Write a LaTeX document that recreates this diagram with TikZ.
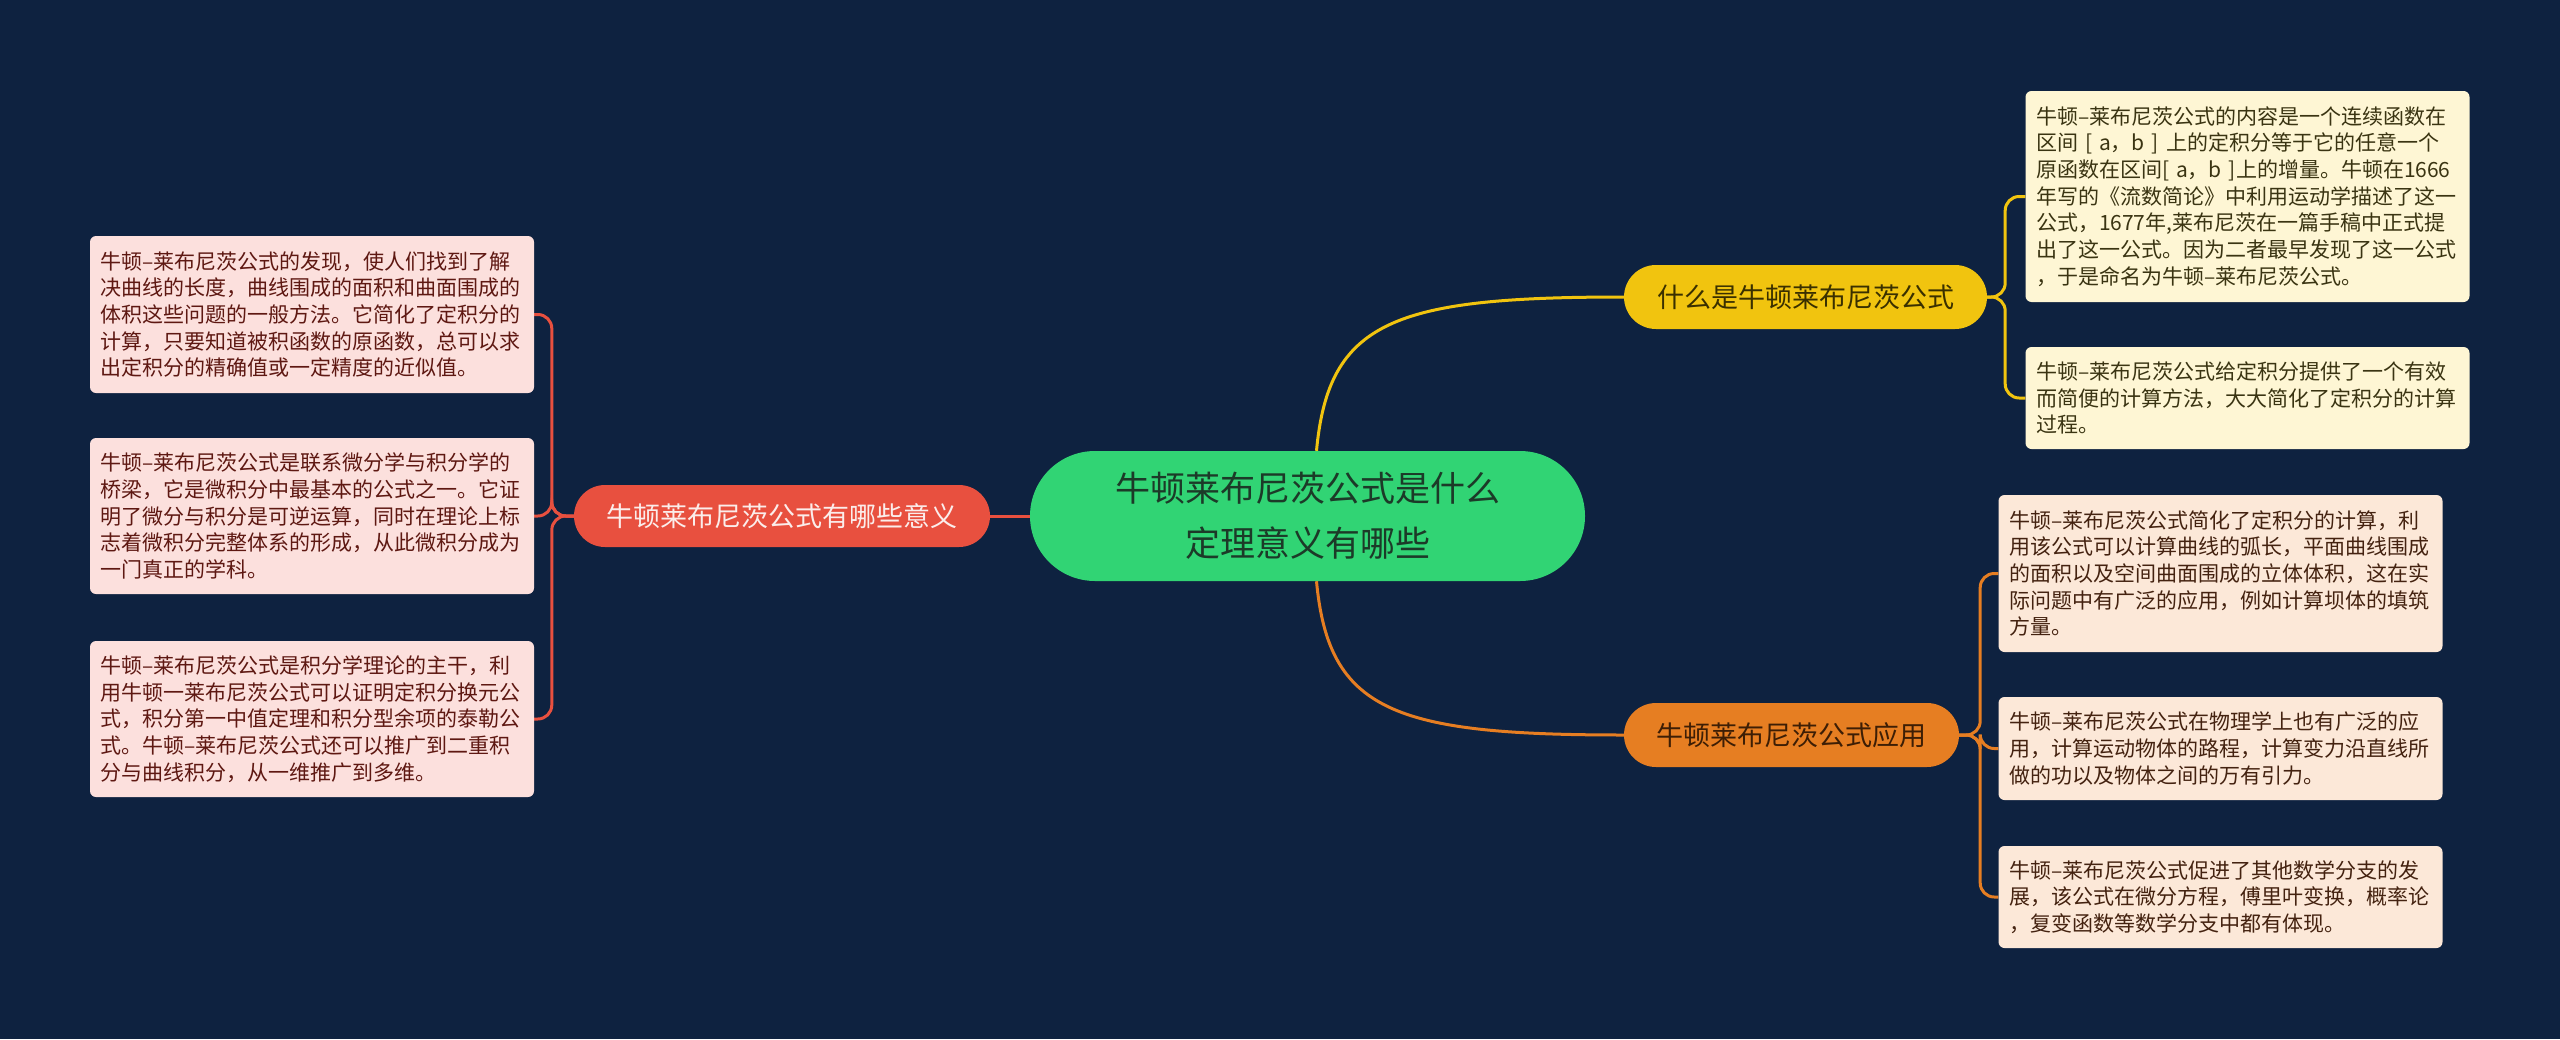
\documentclass[tikz,border=0pt]{standalone}
\usepackage{fontspec}
\setmainfont{Noto Sans CJK SC}
\pgfdeclarelayer{back}
\pgfdeclarelayer{lines}
\pgfsetlayers{back,lines,main}
\definecolor{bgc}{HTML}{0E2240}
\definecolor{cgreen}{HTML}{31D474}
\definecolor{ctext}{HTML}{1C3A28}
\definecolor{cred}{HTML}{E8503F}
\definecolor{credtext}{HTML}{FBEDEB}
\definecolor{cyel}{HTML}{F1C40F}
\definecolor{cyeltext}{HTML}{3A3000}
\definecolor{corg}{HTML}{E67E22}
\definecolor{corgtext}{HTML}{3D1E05}
\definecolor{fyel}{HTML}{FEF6D4}
\definecolor{tyel}{HTML}{3A3412}
\definecolor{forg}{HTML}{FCE8D8}
\definecolor{torg}{HTML}{442210}
\definecolor{fred}{HTML}{FCE0DD}
\definecolor{tred}{HTML}{5E1812}
\begin{document}
\begin{tikzpicture}[x=1pt,y=-1pt,
  box/.style={rounded corners=6pt, inner xsep=10.5pt, inner ysep=0pt,
    text width=423pt, align=left, anchor=center,
    font=\fontsize{21}{26.7}\selectfont},
  ybox/.style={box, fill=fyel, text=tyel},
  obox/.style={box, fill=forg, text=torg},
  rbox/.style={box, fill=fred, text=tred},
  topic/.style={inner sep=0pt, anchor=center, align=center,
    font=\fontsize{27}{34}\selectfont},
  lnyel/.style={draw=cyel, line width=3pt},
  lnorg/.style={draw=corg, line width=3pt},
  lnred/.style={draw=cred, line width=3pt}]
\begin{pgfonlayer}{back}
\fill[bgc] (0,0) rectangle (2560,1039);
\end{pgfonlayer}
\useasboundingbox (0,0) rectangle (2560,1039);

% central
\node[fill=cgreen, text=ctext, rounded corners=65pt, inner sep=0pt,
  minimum width=555pt, minimum height=130pt, align=center,
  font=\fontsize{35}{55}\selectfont] (c) at (1307.5,516)
  {牛顿莱布尼茨公式是什么\\定理意义有哪些};

% level 1
\node[topic, fill=cred, text=credtext, rounded corners=31pt,
  minimum width=416pt, minimum height=62pt] (r) at (782,516)
  {牛顿莱布尼茨公式有哪些意义};
\node[topic, fill=cyel, text=cyeltext, rounded corners=32pt,
  minimum width=363pt, minimum height=64pt] (y) at (1805.5,297)
  {什么是牛顿莱布尼茨公式};
\node[topic, fill=corg, text=corgtext, rounded corners=32pt,
  minimum width=335pt, minimum height=64pt] (o) at (1791.5,735)
  {牛顿莱布尼茨公式应用};

% right yellow children
\node[ybox, minimum height=211pt] (b1) at (2247.5,196.5)
  {牛顿–莱布尼茨公式的内容是一个连续函数在\\
   区间 [ a，b ] 上的定积分等于它的任意一个\\
   原函数在区间[ a，b ]上的增量。牛顿在1666\\
   年写的《流数简论》中利用运动学描述了这一\\
   公式，1677年,莱布尼茨在一篇手稿中正式提\\
   出了这一公式。因为二者最早发现了这一公式\\
   ，于是命名为牛顿–莱布尼茨公式。};
\node[ybox, minimum height=102pt] (b2) at (2247.5,398)
  {牛顿–莱布尼茨公式给定积分提供了一个有效\\
   而简便的计算方法，大大简化了定积分的计算\\
   过程。};

% right orange children
\node[obox, minimum height=157pt] (b3) at (2220.5,573.5)
  {牛顿–莱布尼茨公式简化了定积分的计算，利\\
   用该公式可以计算曲线的弧长，平面曲线围成\\
   的面积以及空间曲面围成的立体体积，这在实\\
   际问题中有广泛的应用，例如计算坝体的填筑\\
   方量。};
\node[obox, minimum height=103pt] (b4) at (2220.5,748.5)
  {牛顿–莱布尼茨公式在物理学上也有广泛的应\\
   用，计算运动物体的路程，计算变力沿直线所\\
   做的功以及物体之间的万有引力。};
\node[obox, minimum height=102pt] (b5) at (2220.5,897)
  {牛顿–莱布尼茨公式促进了其他数学分支的发\\
   展，该公式在微分方程，傅里叶变换，概率论\\
   ，复变函数等数学分支中都有体现。};

% left red children
\node[rbox, minimum height=157pt] (l1) at (312,314.5)
  {牛顿–莱布尼茨公式的发现，使人们找到了解\\
   决曲线的长度，曲线围成的面积和曲面围成的\\
   体积这些问题的一般方法。它简化了定积分的\\
   计算，只要知道被积函数的原函数，总可以求\\
   出定积分的精确值或一定精度的近似值。};
\node[rbox, minimum height=156pt] (l2) at (312,516)
  {牛顿–莱布尼茨公式是联系微分学与积分学的\\
   桥梁，它是微积分中最基本的公式之一。它证\\
   明了微分与积分是可逆运算，同时在理论上标\\
   志着微积分完整体系的形成，从此微积分成为\\
   一门真正的学科。};
\node[rbox, minimum height=156pt] (l3) at (312,719)
  {牛顿–莱布尼茨公式是积分学理论的主干，利\\
   用牛顿一莱布尼茨公式可以证明定积分换元公\\
   式，积分第一中值定理和积分型余项的泰勒公\\
   式。牛顿–莱布尼茨公式还可以推广到二重积\\
   分与曲线积分，从一维推广到多维。};

% connectors
\begin{pgfonlayer}{lines}
\draw[lnred] (c.west) -- (r.east);
\draw[lnyel] ([xshift=9pt]c.north) .. controls +(12,-130) and +(-230,0) .. (y.west);
\draw[lnorg] ([xshift=9pt]c.south) .. controls +(12,130) and +(-230,0) .. (o.west);
\draw[lnyel, rounded corners=14pt] (y.east) -- ++(18,0) |- (b1.west);
\draw[lnyel, rounded corners=14pt] (y.east) -- ++(18,0) |- (b2.west);
\draw[lnorg, rounded corners=14pt] (o.east) -- ++(21,0) |- (b3.west);
\draw[lnorg, rounded corners=14pt] (o.east) -- ++(21,0) |- (b4.west);
\draw[lnorg, rounded corners=14pt] (o.east) -- ++(21,0) |- (b5.west);
\draw[lnred, rounded corners=14pt] (r.west) -- ++(-22,0) |- (l1.east);
\draw[lnred, rounded corners=14pt] (r.west) -- ++(-22,0) |- (l2.east);
\draw[lnred, rounded corners=14pt] (r.west) -- ++(-22,0) |- (l3.east);
\end{pgfonlayer}
\end{tikzpicture}
\end{document}
